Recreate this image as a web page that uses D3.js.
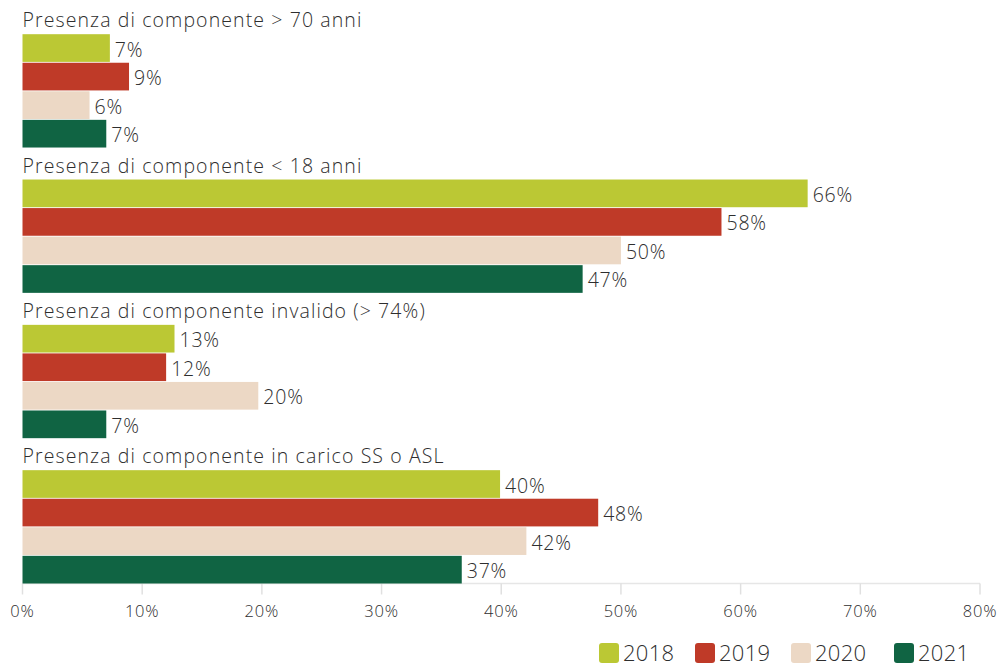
<!DOCTYPE html>
<html>
<head>
<meta charset="utf-8">
<script src="https://d3js.org/d3.v7.min.js"></script>
<style>
  body { margin: 0; background: #fff; }
  svg text { font-family: "Open Sans", sans-serif; fill: #2e2e2e; }
</style>
</head>
<body>
<svg></svg>
<script>
const categories = [
  "Presenza di componente > 70 anni",
  "Presenza di componente < 18 anni",
  "Presenza di componente invalido (> 74%)",
  "Presenza di componente in carico SS o ASL"
];
const years = ["2018", "2019", "2020", "2021"];
const values2018 = [7.3, 65.6, 12.7, 39.9];
const values2019 = [8.9, 58.4, 12.0, 48.1];
const values2020 = [5.6, 50.0, 19.7, 42.1];
const values2021 = [7.0, 46.8, 7.0, 36.7];
const labels2018 = ["7%", "66%", "13%", "40%"];
const labels2019 = ["9%", "58%", "12%", "48%"];
const labels2020 = ["6%", "50%", "20%", "42%"];
const labels2021 = ["7%", "47%", "7%", "37%"];
const xTicks = [0, 10, 20, 30, 40, 50, 60, 70, 80];
const colors = ["#bbc834", "#bf3a28", "#ecd8c5", "#106443"];

const seriesValues = [values2018, values2019, values2020, values2021];
const seriesLabels = [labels2018, labels2019, labels2020, labels2021];

const width = 1000, height = 665;
const marginLeft = 22.5, marginRight = 980, plotTop = 2.2, plotBottom = 583.5;
const titleSpace = 32;

const svg = d3.select("svg").attr("width", width).attr("height", height);

const x = d3.scaleLinear().domain([0, 80]).range([marginLeft, marginRight]);
const y0 = d3.scaleBand().domain(categories).range([plotTop, plotBottom]);
const y1 = d3.scaleBand().domain(years).range([titleSpace, y0.bandwidth()]).paddingInner(0.03);

const data = categories.map((c, i) => ({
  cat: c,
  bars: years.map((yr, j) => ({ year: yr, value: seriesValues[j][i], label: seriesLabels[j][i], color: colors[j] }))
}));

// axis
const axisG = svg.append("g").attr("transform", `translate(0,${plotBottom})`);
axisG.append("line")
  .attr("x1", marginLeft).attr("x2", marginRight)
  .attr("stroke", "#e6e6e6").attr("stroke-width", 1.5);
axisG.selectAll("line.tick")
  .data(xTicks).enter().append("line")
  .attr("class", "tick")
  .attr("x1", d => x(d)).attr("x2", d => x(d))
  .attr("y1", 0).attr("y2", 11)
  .attr("stroke", "#e0e0e0").attr("stroke-width", 1.5);
axisG.selectAll("text")
  .data(xTicks).enter().append("text")
  .attr("x", d => x(d)).attr("y", 33)
  .attr("text-anchor", "middle")
  .style("font-size", "16.5px")
  .style("font-weight", 300)
  .style("letter-spacing", "0.8px")
  .text(d => d + "%");

const groups = svg.selectAll("g.cat")
  .data(data).enter().append("g")
  .attr("class", "cat")
  .attr("transform", d => `translate(0,${y0(d.cat)})`);

groups.append("text")
  .attr("x", marginLeft)
  .attr("y", 25)
  .style("font-size", "19.5px")
  .style("font-weight", 300)
  .style("letter-spacing", "1.1px")
  .text(d => d.cat);

groups.selectAll("rect")
  .data(d => d.bars).enter().append("rect")
  .attr("x", x(0))
  .attr("y", d => y1(d.year))
  .attr("width", d => x(d.value) - x(0))
  .attr("height", y1.bandwidth())
  .attr("fill", d => d.color);

groups.selectAll("text.val")
  .data(d => d.bars).enter().append("text")
  .attr("class", "val")
  .attr("x", d => x(d.value) + 5)
  .attr("y", d => y1(d.year) + y1.bandwidth() / 2 + 1)
  .attr("dominant-baseline", "central")
  .style("font-size", "19.5px")
  .style("font-weight", 300)
  .style("letter-spacing", "0.8px")
  .text(d => d.label);

// legend
const legendX = [599, 695, 791, 894];
const legend = svg.selectAll("g.leg")
  .data(years).enter().append("g")
  .attr("class", "leg")
  .attr("transform", (d, i) => `translate(${legendX[i]},643)`);
legend.append("rect")
  .attr("width", 20).attr("height", 20).attr("rx", 3)
  .attr("fill", (d, i) => colors[i]);
legend.append("text")
  .attr("x", 24).attr("y", 18)
  .style("font-size", "22px")
  .style("font-weight", 300)
  .style("letter-spacing", "0.3px")
  .text(d => d);
</script>
</body>
</html>
